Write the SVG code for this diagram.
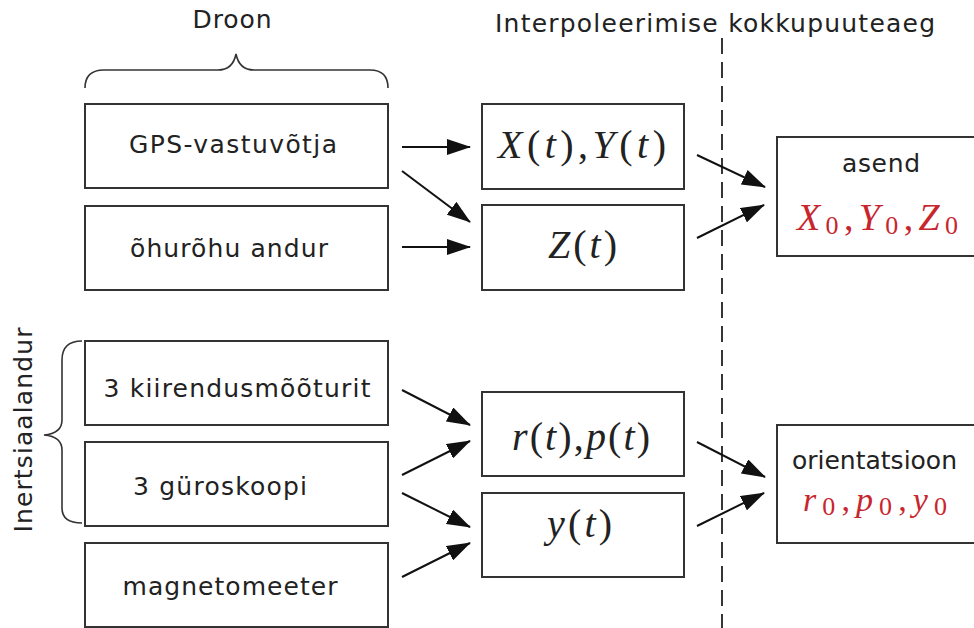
<svg xmlns="http://www.w3.org/2000/svg" width="974" height="628" viewBox="0 0 974 628">
<style>
.box{fill:#fff;stroke:#333;stroke-width:2}
.lbl{font-family:"DejaVu Sans","Verdana",sans-serif;font-size:25px;fill:#222}
.math{font-family:"Liberation Serif","DejaVu Serif",serif;font-size:40px;fill:#222;font-style:italic}
.mr{font-size:38px}
.mo{font-size:34px}
.red{fill:#c8262e}
.up{font-style:normal}
.sub{font-style:normal;font-size:26px}
.brace{fill:none;stroke:#333;stroke-width:1.6}
.arr{stroke:#111;stroke-width:2;fill:none;marker-end:url(#ah)}
</style>
<defs>
<marker id="ah" markerUnits="userSpaceOnUse" markerWidth="24" markerHeight="16" refX="23" refY="8" orient="auto">
<path d="M0,0 L24,8 L0,16 z" fill="#111"/>
</marker>
</defs>
<rect width="974" height="628" fill="#fff"/>

<g id="titles">
<text class="lbl" x="232" y="28" text-anchor="middle" textLength="79">Droon</text>
<text class="lbl" x="715" y="32" text-anchor="middle" textLength="440">Interpoleerimise kokkupuuteaeg</text>
<text class="lbl" transform="translate(32,430) rotate(-90)" text-anchor="middle" textLength="205">Inertsiaalandur</text>
</g>

<g id="braces">
<path class="brace" d="M85,88 C85,76 92,70 104,70 L218,70 C228,70 234,64 236,54 C238,64 244,70 254,70 L370,70 C382,70 388,76 388,88"/>
<path class="brace" d="M82,341 C68,341 62,348 62,360 L62,420 C62,430 55,434 44,435 C55,436 62,440 62,450 L62,508 C62,518 68,523 82,523"/>
</g>

<line id="divider" x1="722" y1="38" x2="722" y2="628" stroke="#222" stroke-width="1.8" stroke-dasharray="16,8"/>

<g id="gps"><rect class="box" x="85" y="104" width="303" height="84"/>
<text class="lbl" x="233" y="153" text-anchor="middle" textLength="208">GPS-vastuvõtja</text></g>
<g id="ohurohu"><rect class="box" x="85" y="206" width="303" height="84"/>
<text class="lbl" x="229" y="257" text-anchor="middle" textLength="198">õhurõhu andur</text></g>
<g id="kiirendus"><rect class="box" x="85" y="341" width="303" height="84"/>
<text class="lbl" x="237" y="397" text-anchor="middle" textLength="267">3 kiirendusmõõturit</text></g>
<g id="guro"><rect class="box" x="85" y="442" width="303" height="84"/>
<text class="lbl" x="220" y="495" text-anchor="middle" textLength="174">3 güroskoopi</text></g>
<g id="magnet"><rect class="box" x="85" y="543" width="303" height="84"/>
<text class="lbl" x="230" y="595" text-anchor="middle" textLength="215">magnetomeeter</text></g>

<g id="xy"><rect class="box" x="482" y="104" width="202" height="85"/>
<text class="math" x="498" y="158" textLength="168">X<tspan class="up">(</tspan>t<tspan class="up">),</tspan>Y<tspan class="up">(</tspan>t<tspan class="up">)</tspan></text></g>
<g id="z"><rect class="box" x="482" y="205" width="202" height="85"/>
<text class="math" x="548" y="258" textLength="69">Z<tspan class="up">(</tspan>t<tspan class="up">)</tspan></text></g>
<g id="rp"><rect class="box" x="482" y="392" width="202" height="84"/>
<text class="math" x="512" y="450" textLength="138">r<tspan class="up">(</tspan>t<tspan class="up">),</tspan>p<tspan class="up">(</tspan>t<tspan class="up">)</tspan></text></g>
<g id="yaw"><rect class="box" x="482" y="493" width="202" height="84"/>
<text class="math" x="547" y="537" textLength="65">y<tspan class="up">(</tspan>t<tspan class="up">)</tspan></text></g>

<g id="asend"><rect class="box" x="777" y="137" width="220" height="119"/>
<text class="lbl" x="842" y="172" textLength="78">asend</text>
<text class="math mr red" x="797" y="230" textLength="161">X<tspan class="sub" dy="4">0</tspan><tspan class="up" dy="-4">,</tspan>Y<tspan class="sub" dy="4">0</tspan><tspan class="up" dy="-4">,</tspan>Z<tspan class="sub" dy="4">0</tspan></text></g>
<g id="orient"><rect class="box" x="777" y="425" width="220" height="118"/>
<text class="lbl" x="792" y="469" textLength="165">orientatsioon</text>
<text class="math mo red" x="803" y="511" textLength="144">r<tspan class="sub" dy="4">0</tspan><tspan class="up" dy="-4">,</tspan>p<tspan class="sub" dy="4">0</tspan><tspan class="up" dy="-4">,</tspan>y<tspan class="sub" dy="4">0</tspan></text></g>

<g id="connectors">
<line class="arr" x1="402" y1="147" x2="470" y2="147"/>
<line class="arr" x1="402" y1="171" x2="470" y2="222"/>
<line class="arr" x1="402" y1="247" x2="470" y2="247"/>
<line class="arr" x1="697" y1="155" x2="765" y2="187"/>
<line class="arr" x1="697" y1="238" x2="764" y2="205"/>
<line class="arr" x1="402" y1="390" x2="470" y2="425"/>
<line class="arr" x1="402" y1="475" x2="470" y2="441"/>
<line class="arr" x1="402" y1="493" x2="470" y2="527"/>
<line class="arr" x1="402" y1="577" x2="470" y2="543"/>
<line class="arr" x1="697" y1="442" x2="765" y2="477"/>
<line class="arr" x1="697" y1="526" x2="764" y2="493"/>
</g>
</svg>
